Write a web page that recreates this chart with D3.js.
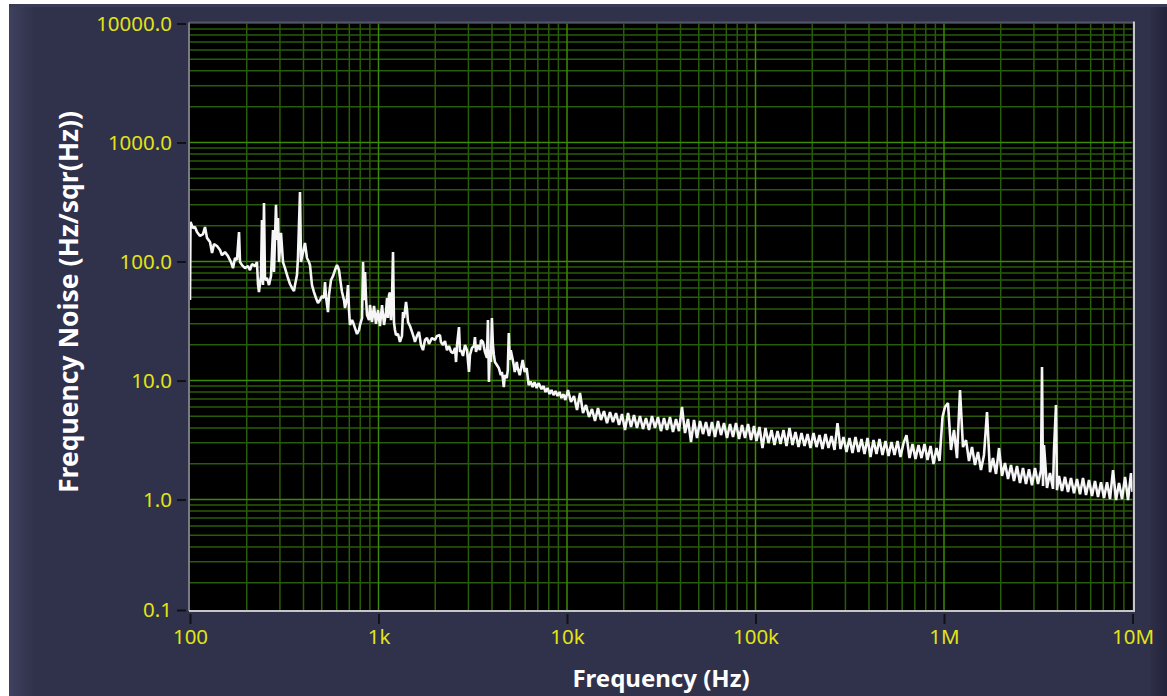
<!DOCTYPE html>
<html>
<head>
<meta charset="utf-8">
<title>Frequency Noise</title>
<style>
  body { margin: 0; background: #ffffff; }
  svg { display: block; }
  .tick text {
    font-family: "Noto Sans", "Open Sans", sans-serif;
    font-size: 20.5px;
    fill: #e2e416;
  }
  .axis-title {
    font-family: "Noto Sans", "Open Sans", sans-serif;
    font-weight: bold;
    fill: #ffffff;
  }
</style>
</head>
<body>
<script src="https://d3js.org/d3.v7.min.js"></script>
<script>
// spectrum, [frequency Hz, noise Hz/sqrt(Hz)]
const trace100To1k = [
  [100, 47.4], [100.6, 215], [103.7, 191], [106.3, 195], [108.9, 177], [113, 164], [117.2, 170],
  [120.1, 195], [123.1, 158], [127.7, 146], [130.9, 118], [134.1, 140], [139.1, 135], [144.3, 125],
  [147.8, 113], [153.3, 120], [159.1, 111], [165, 99], [169.1, 88], [173.3, 107], [177.5, 103],
  [182, 177], [184.2, 99], [188.8, 93.3], [195.8, 88], [203, 91.6], [208.1, 84.8], [213.3, 95],
  [221.2, 91.6], [226.6, 99], [229.4, 64.7], [232.2, 55.4], [238, 75.5], [240.9, 223], [243.9, 63.4],
  [246.9, 310], [249.9, 69.9], [256.1, 72.7], [262.5, 63.4], [269, 75.5], [275.6, 184], [279, 81.6],
  [285.9, 299], [289.4, 152], [293, 232], [296.6, 99], [303.9, 174], [311.4, 99], [319.1, 88],
  [330.9, 72.7], [339.2, 64.7], [347.6, 60], [356.2, 56.5], [360.6, 63.4], [369.4, 77], [373.9, 107],
  [383.3, 384], [388, 99], [392.8, 109], [407.4, 143], [417.4, 107], [427.7, 99], [433.1, 93.3],
  [443.8, 63.4], [454.7, 55.4], [465.9, 49.4], [477.4, 44.8], [489.4, 47.4], [501.5, 51.3],
  [513.9, 49.4], [520.2, 67.2], [526.6, 50.4], [539.6, 37.6], [546.2, 52.3], [559.8, 69.9],
  [573.6, 75.5], [587.7, 84.8], [602.2, 93.3], [617.1, 84.8], [632.5, 63.4], [640.3, 55.4],
  [656.1, 47.4], [664.2, 40.7], [680.6, 49.4], [689, 63.4], [697.5, 39.1], [706.1, 29.3],
  [723.6, 32.2], [732.5, 31], [750.6, 27.6], [769.2, 24.6], [788.2, 26.6], [798, 29.3],
  [817.7, 33.5], [827.8, 99], [838, 47.4], [848.2, 81.6], [858.6, 49.4], [869.2, 35.5],
  [890.7, 32.2], [901.5, 43.1], [923.9, 31], [946.8, 42.3], [970, 29.9], [994, 39.1]
];

const trace1kTo10k = [
  [1018, 28.7], [1044, 43.1], [1070, 29.3], [1096, 37.6], [1110, 49.4], [1123, 33.5], [1137, 52.3],
  [1151, 54.9], [1165, 32.2], [1179, 47.4], [1194, 120], [1208, 31], [1223, 26.6], [1238, 24.1],
  [1269, 24.6], [1300, 21.1], [1332, 23.7], [1349, 37.6], [1366, 33.5], [1400, 45.7], [1417, 39.1],
  [1434, 31], [1469, 28.7], [1506, 25.6], [1542, 22.8], [1561, 21.1], [1600, 23.7], [1640, 25.6],
  [1680, 19.9], [1722, 18], [1764, 21.9], [1808, 22.8], [1853, 20.3], [1876, 21.1], [1923, 22.8],
  [1993, 21.9], [2043, 23.7], [2118, 24.1], [2144, 21.1], [2198, 19.9], [2253, 21.5], [2309, 18],
  [2366, 19.5], [2425, 17.4], [2485, 17], [2547, 18.8], [2578, 14.3], [2610, 19.9], [2673, 28.1],
  [2706, 17.4], [2740, 18], [2807, 16.1], [2876, 19.9], [2948, 18], [3020, 11.8], [3057, 16.4],
  [3133, 18.8], [3210, 19.5], [3249, 23.2], [3289, 17.4], [3370, 19.9], [3453, 18], [3496, 21.9],
  [3582, 21.1], [3670, 17.4], [3761, 15.5], [3807, 32.2], [3853, 9.71], [3900, 18], [3948, 14.3],
  [3996, 33.5], [4045, 19.9], [4094, 16.4], [4145, 14.3], [4246, 13.5], [4350, 12.7], [4456, 11.1],
  [4511, 11.8], [4566, 10.5], [4621, 8.82], [4678, 11.1], [4792, 10.5], [4851, 12.2], [4910, 25.1],
  [4970, 14.9], [5031, 18], [5093, 16.4], [5218, 13.5], [5282, 11.8], [5412, 14.3], [5478, 12.7],
  [5613, 11.1], [5750, 13.5], [5821, 14.9], [5964, 11.8], [6110, 12.7], [6260, 9.16], [6414, 9.81],
  [6572, 8.82], [6733, 9.71], [6898, 8.65], [7068, 9.5], [7155, 9.16], [7330, 8.48], [7510, 8.98],
  [7695, 8.01], [7884, 8.65], [8078, 7.7], [8276, 8.32], [8480, 7.55], [8688, 8.16], [8902, 7.41],
  [9120, 8.01], [9344, 7.13], [9574, 7.7], [9810, 6.86]
];

const trace10kTo100k = [
  [10120, 8.32], [10500, 6.6], [10890, 7.41], [11300, 5.65], [11720, 7.85], [12160, 5.33],
  [12610, 6.22], [13090, 4.94], [13570, 5.76], [14080, 4.57], [14600, 5.87], [15150, 4.66],
  [15710, 5.54], [16300, 4.39], [16910, 5.44], [17540, 4.48], [18200, 5.33], [18880, 4.23],
  [19580, 5.23], [20310, 3.84], [21070, 5.33], [21860, 4.07], [22670, 5.13], [23510, 3.99],
  [24390, 5.03], [25300, 3.91], [26250, 4.84], [27230, 3.84], [28240, 5.03], [29300, 3.99],
  [30390, 4.94], [31530, 3.76], [32700, 4.84], [33920, 3.84], [35190, 4.94], [36500, 3.69],
  [37870, 4.75], [39280, 3.76], [40740, 5.99], [42270, 3.62], [43840, 4.75], [45480, 3.04],
  [47180, 4.66], [48940, 3.29], [50770, 4.57], [52660, 3.55], [54630, 4.48], [56670, 3.42],
  [58770, 4.48], [60970, 3.35], [63250, 4.57], [65610, 3.48], [68060, 4.39], [70610, 3.29],
  [73240, 4.31], [75980, 3.35], [78820, 4.39], [81770, 3.22], [84820, 4.23], [87990, 3.29],
  [91280, 4.31], [94680, 3.16], [98180, 4.15]
];

const trace100kTo1M = [
  [101200, 3.1], [105000, 4.07], [108900, 2.71], [113000, 3.99], [117200, 2.98], [121600, 3.84],
  [126100, 2.87], [130900, 3.76], [135700, 2.93], [140800, 3.84], [146000, 2.82], [151500, 3.99],
  [157100, 2.87], [163000, 3.69], [169100, 2.76], [175400, 3.62], [182000, 2.82], [188800, 3.55],
  [195800, 2.71], [203100, 3.62], [210700, 2.76], [218600, 3.48], [226700, 2.66], [235100, 3.55],
  [243900, 2.71], [253000, 3.42], [262500, 2.61], [272300, 4.39], [282400, 2.66], [293000, 3.35],
  [303900, 2.51], [315300, 3.29], [327000, 2.46], [339200, 3.35], [351900, 2.51], [365000, 3.22],
  [378700, 2.41], [392800, 3.29], [407400, 2.28], [422700, 3.16], [438400, 2.41], [454800, 3.22],
  [471800, 2.37], [489400, 3.1], [507700, 2.32], [526600, 3.04], [546300, 2.37], [566700, 3.1],
  [587700, 2.28], [609700, 2.98], [632500, 3.48], [656100, 2.23], [680600, 2.93], [706100, 2.19],
  [732400, 2.87], [759800, 2.23], [788200, 2.93], [817700, 2.15], [848200, 2.82], [879900, 1.99],
  [912800, 2.71], [946800, 2.11], [981800, 4.94]
];

const trace1MTo10M = [
  [1012000, 5.99], [1050000, 6.47], [1089000, 2.61], [1130000, 3.84], [1172000, 2.23], [1216000, 8.32],
  [1261000, 2.76], [1309000, 3.16], [1357000, 2.11], [1408000, 2.76], [1460000, 1.95], [1515000, 2.51],
  [1571000, 1.77], [1630000, 2.37], [1691000, 5.44], [1754000, 1.7], [1820000, 2.23], [1888000, 1.64],
  [1958000, 2.71], [2031000, 1.58], [2107000, 2.03], [2186000, 1.49], [2267000, 1.95], [2351000, 1.43],
  [2439000, 1.91], [2530000, 1.38], [2625000, 1.84], [2723000, 1.35], [2824000, 1.8], [2930000, 1.32],
  [3039000, 1.84], [3153000, 1.35], [3270000, 1.77], [3311000, 12.98], [3352000, 1.3], [3392000, 2.87],
  [3519000, 1.25], [3650000, 1.67], [3787000, 1.23], [3833000, 2.61], [3928000, 6.22], [3976000, 1.2],
  [4074000, 1.58], [4227000, 1.18], [4384000, 1.55], [4548000, 1.16], [4718000, 1.52], [4894000, 1.13],
  [5077000, 1.49], [5266000, 1.11], [5463000, 1.52], [5667000, 1.09], [5877000, 1.46], [6097000, 1.07],
  [6325000, 1.43], [6561000, 1.05], [6806000, 1.4], [7061000, 1.03], [7324000, 1.4], [7598000, 1.01],
  [7882000, 1.77], [8177000, 0.99], [8482000, 1.38], [8799000, 1.01], [9128000, 1.55], [9468000, 0.99],
  [9818000, 1.67], [10000000, 1.16]
];

// axis setup
const xTickValues = [100, 1e3, 1e4, 1e5, 1e6, 1e7];
const xTickLabels = ["100", "1k", "10k", "100k", "1M", "10M"];
const yMin = 0.118;            // bottom of the visible range, shown as "0.1"
const yTickValues = [yMin, 1, 10, 100, 1000, 10000];

const width = 1167;
const height = 696;
const plot = { left: 190, right: 1132.5, top: 23.5, bottom: 610 };

const svg = d3.select("body").append("svg")
  .attr("width", width)
  .attr("height", height);

// panel background
const defs = svg.append("defs");
const leftGrad = defs.append("linearGradient").attr("id", "leftEdge");
leftGrad.append("stop").attr("offset", "0%").attr("stop-color", "#3f415e");
leftGrad.append("stop").attr("offset", "100%").attr("stop-color", "#31324b");
const rightGrad = defs.append("linearGradient").attr("id", "rightEdge");
rightGrad.append("stop").attr("offset", "0%").attr("stop-color", "#2f3048");
rightGrad.append("stop").attr("offset", "100%").attr("stop-color", "#23243a");

svg.append("rect").attr("x", 9).attr("y", 4).attr("width", width - 9).attr("height", height - 4)
  .attr("fill", "#30314a");
svg.append("rect").attr("x", 9).attr("y", 4).attr("width", 25).attr("height", height - 4)
  .attr("fill", "url(#leftEdge)");
svg.append("rect").attr("x", 1150).attr("y", 4).attr("width", 17).attr("height", height - 4)
  .attr("fill", "url(#rightEdge)");
svg.append("rect").attr("x", 9).attr("y", 4).attr("width", width - 9).attr("height", 3)
  .attr("fill", "#3a3b56");

// scales
const x = d3.scaleLog().domain([100, 1e7]).range([plot.left, plot.right]);
const y = d3.scaleLog().domain([yMin, 10000]).range([plot.bottom, plot.top]);

// plot area
svg.append("rect")
  .attr("x", plot.left).attr("y", plot.top)
  .attr("width", plot.right - plot.left).attr("height", plot.bottom - plot.top)
  .attr("fill", "#000000");

const isMajor = d => Math.abs(Math.log10(d) - Math.round(Math.log10(d))) < 1e-6;
const minorColor = "#285c08";
const majorColor = "#3c8a05";

const grid = svg.append("g");
const xGrid = x.ticks().filter(d => d > 100 && d < 1e7);
const yGrid = y.ticks().filter(d => d > yMin && d < 10000);

// minor lines first, majors on top
[false, true].forEach(major => {
  grid.append("g").selectAll("line")
    .data(xGrid.filter(d => isMajor(d) === major))
    .join("line")
    .attr("x1", d => x(d)).attr("x2", d => x(d))
    .attr("y1", plot.top).attr("y2", plot.bottom)
    .attr("stroke", major ? majorColor : minorColor)
    .attr("stroke-width", 1.5);
  grid.append("g").selectAll("line")
    .data(yGrid.filter(d => isMajor(d) === major))
    .join("line")
    .attr("x1", plot.left).attr("x2", plot.right)
    .attr("y1", d => y(d)).attr("y2", d => y(d))
    .attr("stroke", major ? majorColor : minorColor)
    .attr("stroke-width", 1.5);
});

// trace
svg.append("clipPath").attr("id", "plotClip")
  .append("rect")
  .attr("x", plot.left).attr("y", plot.top)
  .attr("width", plot.right - plot.left).attr("height", plot.bottom - plot.top);

const spectrum = [].concat(trace100To1k, trace1kTo10k, trace10kTo100k, trace100kTo1M, trace1MTo10M);

const line = d3.line()
  .x(d => x(d[0]))
  .y(d => y(d[1]));

svg.append("path")
  .datum(spectrum)
  .attr("clip-path", "url(#plotClip)")
  .attr("fill", "none")
  .attr("stroke", "#f6f6f6")
  .attr("stroke-width", 2.6)
  .attr("stroke-linejoin", "bevel")
  .attr("d", line);

// plot frame
const frame = svg.append("g").attr("stroke-width", 2);
frame.append("line").attr("x1", plot.left - 1).attr("x2", plot.right + 1)
  .attr("y1", plot.top - 1).attr("y2", plot.top - 1).attr("stroke", "#555566");
frame.append("line").attr("x1", plot.left - 1).attr("x2", plot.left - 1)
  .attr("y1", plot.top - 1).attr("y2", plot.bottom + 1).attr("stroke", "#7a7a86");
frame.append("line").attr("x1", plot.left - 1).attr("x2", plot.right + 2)
  .attr("y1", plot.bottom + 1).attr("y2", plot.bottom + 1).attr("stroke", "#c6c6c6");
frame.append("line").attr("x1", plot.right + 1.5).attr("x2", plot.right + 1.5)
  .attr("y1", plot.top - 2).attr("y2", plot.bottom + 2).attr("stroke", "#c6c6c6");

// axes
const yAxis = d3.axisLeft(y)
  .tickValues(yTickValues)
  .tickFormat(d3.format(".1f"))
  .tickSize(9)
  .tickPadding(5);

svg.append("g")
  .attr("transform", `translate(${plot.left - 4},0)`)
  .attr("color", "#111118")
  .call(yAxis)
  .call(g => g.select(".domain").remove())
  .call(g => g.selectAll(".tick line").attr("stroke-width", 2));

const xAxis = d3.axisBottom(x)
  .tickValues(xTickValues)
  .tickFormat((d, i) => xTickLabels[i])
  .tickSize(10)
  .tickPadding(5);

svg.append("g")
  .attr("transform", `translate(0,${plot.bottom + 4})`)
  .attr("color", "#111118")
  .call(xAxis)
  .call(g => g.select(".domain").remove())
  .call(g => g.selectAll(".tick line").attr("stroke-width", 2));

// axis titles
svg.append("text")
  .attr("class", "axis-title")
  .attr("x", 661)
  .attr("y", 687)
  .attr("text-anchor", "middle")
  .style("font-size", "24px")
  .text("Frequency (Hz)");

svg.append("text")
  .attr("class", "axis-title")
  .attr("transform", "translate(78,302) rotate(-90)")
  .attr("text-anchor", "middle")
  .style("font-size", "26.5px")
  .text("Frequency Noise (Hz/sqr(Hz))");
</script>
</body>
</html>
